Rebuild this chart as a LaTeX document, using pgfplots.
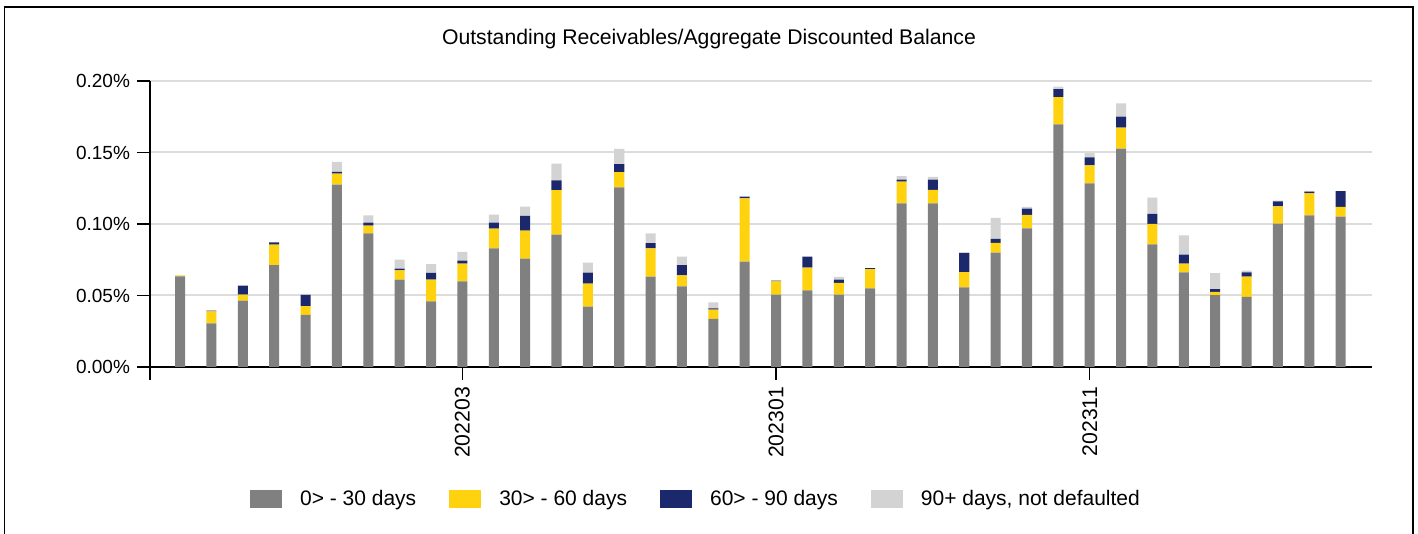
\documentclass[border=0pt]{standalone}
\usepackage{pgfplots}
\pgfplotsset{compat=1.18}
\usepackage{pgfplotstable}
\usepackage{fontspec}
\setmainfont{Liberation Sans}
\definecolor{cgray}{RGB}{128,128,128}
\definecolor{cyel}{RGB}{255,210,15}
\definecolor{cnavy}{RGB}{27,40,107}
\definecolor{clight}{RGB}{211,211,211}
\definecolor{cgrid}{RGB}{220,220,220}
\pgfplotstableread{
x a b c d
0 0.0634 0.0007 0.0000 0.0000
1 0.0305 0.0084 0.0005 0.0000
2 0.0464 0.0042 0.0063 0.0000
3 0.0713 0.0142 0.0016 0.0000
4 0.0364 0.0061 0.0079 0.0007
5 0.1275 0.0077 0.0012 0.0070
6 0.0935 0.0054 0.0021 0.0051
7 0.0611 0.0065 0.0012 0.0063
8 0.0459 0.0152 0.0047 0.0061
9 0.0599 0.0124 0.0021 0.0061
10 0.0830 0.0138 0.0042 0.0056
11 0.0758 0.0196 0.0103 0.0065
12 0.0925 0.0312 0.0068 0.0117
13 0.0422 0.0161 0.0077 0.0070
14 0.1256 0.0107 0.0056 0.0107
15 0.0632 0.0198 0.0037 0.0068
16 0.0564 0.0077 0.0072 0.0058
17 0.0336 0.0065 0.0009 0.0042
18 0.0737 0.0443 0.0012 0.0000
19 0.0506 0.0093 0.0005 0.0000
20 0.0536 0.0159 0.0077 0.0000
21 0.0506 0.0082 0.0023 0.0019
22 0.0550 0.0135 0.0007 0.0000
23 0.1145 0.0152 0.0014 0.0023
24 0.1145 0.0093 0.0072 0.0019
25 0.0557 0.0107 0.0133 0.0007
26 0.0800 0.0068 0.0028 0.0147
27 0.0970 0.0093 0.0044 0.0012
28 0.1697 0.0191 0.0056 0.0016
29 0.1284 0.0126 0.0056 0.0030
30 0.1527 0.0147 0.0077 0.0093
31 0.0858 0.0142 0.0070 0.0114
32 0.0662 0.0061 0.0063 0.0135
33 0.0503 0.0023 0.0019 0.0112
34 0.0490 0.0142 0.0030 0.0012
35 0.1002 0.0121 0.0035 0.0005
36 0.1061 0.0154 0.0012 0.0005
37 0.1051 0.0068 0.0110 0.0000
}\datatable
\begin{document}
\begin{tikzpicture}
\useasboundingbox (-75pt,-83.5pt) rectangle (634pt,183.5pt);
\begin{axis}[
  at={(0pt,0pt)}, anchor=south west,
  scale only axis, width=611pt, height=143pt,
  ybar stacked, bar width=0.32,
  xmin=-0.96, xmax=38.0, ymin=0, ymax=0.2,
  axis x line*=bottom, axis y line*=left,
  axis line style={black, line width=1pt, -},
  major tick length=6.5pt,
  ytick={0,0.05,0.1,0.15,0.2},
  yticklabel={\pgfmathprintnumber[fixed,fixed zerofill,precision=2]{\tick}\%},
  yticklabel style={font=\fontsize{9.5}{11}\selectfont, xshift=0pt},
  ytick style={black, line width=0.6pt},
  xtick={-0.96,9,19,29},
  xticklabels={,202203,202301,202311},
  xticklabel style={rotate=90, anchor=east, font=\fontsize{10.6}{12}\selectfont, yshift=0pt},
  xtick style={black, line width=0.6pt},
  tick align=outside,
  ymajorgrids, xmajorgrids=false,
  grid style={cgrid, line width=1pt},
  /pgf/number format/assume math mode=true,
  legend columns=4,
  legend style={at={(0.4476,-0.4615)}, anchor=center, draw=none,
    font=\fontsize{10.5}{12}\selectfont,
    /tikz/every even column/.append style={column sep=14.5pt}},
  legend image code/.code={\fill[#1] (0pt,-4.5pt) rectangle (16pt,4.5pt); \path (23pt,0pt);},
]
\addplot[fill=cgray, draw=none] table[x=x,y=a]{\datatable};
\addlegendentry{0> - 30 days}
\addplot[fill=cyel, draw=none] table[x=x,y=b]{\datatable};
\addlegendentry{30> - 60 days}
\addplot[fill=cnavy, draw=none] table[x=x,y=c]{\datatable};
\addlegendentry{60> - 90 days}
\addplot[fill=clight, draw=none] table[x=x,y=d]{\datatable};
\addlegendentry{90+ days, not defaulted}
\end{axis}
\node[font=\fontsize{10.6}{12.5}\selectfont] at (279.5pt,164pt) {Outstanding Receivables/Aggregate Discounted Balance};
\draw[black, line width=0.8pt] (-72.75pt,-83.5pt) -- (-72.75pt,180pt) -- (631.5pt,180pt) -- (631.5pt,-83.5pt);
\end{tikzpicture}
\end{document}
